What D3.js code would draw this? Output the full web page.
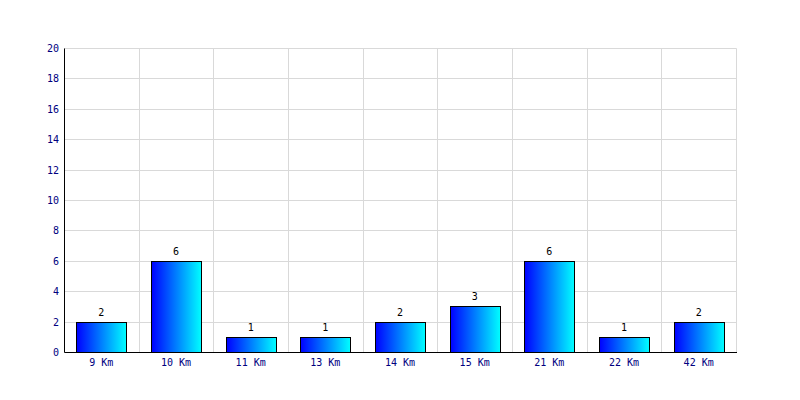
<!DOCTYPE html>
<html><head><meta charset="utf-8">
<script src="https://cdn.jsdelivr.net/npm/d3@7"></script>
<style>body{margin:0;background:#fff}svg{display:block}</style>
</head><body><svg id="c" width="800" height="400"></svg>
<script>
const categories = ["9 Km","10 Km","11 Km","13 Km","14 Km","15 Km","21 Km","22 Km","42 Km"];
const values = [2,6,1,1,2,3,6,1,2];
const yTicks = [0,2,4,6,8,10,12,14,16,18,20];

const svg = d3.select("#c");
const L=64, R=736, T=48, B=352;
const x = d3.scaleBand().domain(categories).range([L,R]).paddingInner(0).paddingOuter(0);
const y = d3.scaleLinear().domain([0,20]).range([B,T]);
const font = "'DejaVu Sans Mono', monospace";
const px = v => Math.round(v)+0.5;

const defs = svg.append("defs");
const g = defs.append("linearGradient").attr("id","bg").attr("x1","0").attr("x2","1").attr("y1","0").attr("y2","0");
g.append("stop").attr("offset","0").attr("stop-color","#0000ff");
g.append("stop").attr("offset","1").attr("stop-color","#00ffff");

// grid
svg.append("g").selectAll("line").data(yTicks.filter(d=>d>0)).join("line")
  .attr("x1",L).attr("x2",R+0.5).attr("y1",d=>px(y(d))).attr("y2",d=>px(y(d)))
  .attr("stroke","#d9d9d9");
svg.append("g").selectAll("line").data(categories.slice(1).concat(["__end"])).join("line")
  .attr("x1",d=>px(d==="__end"?R:x(d))).attr("x2",d=>px(d==="__end"?R:x(d)))
  .attr("y1",px(T)).attr("y2",B).attr("stroke","#d9d9d9");

// bars
const bw = 50;
svg.append("g").selectAll("rect").data(values).join("rect")
  .attr("x",(d,i)=>Math.round(x(categories[i])+(x.bandwidth()-bw)/2)+0.5)
  .attr("y",d=>px(y(d)))
  .attr("width",bw)
  .attr("height",d=>Math.round(B-y(d)))
  .attr("fill","url(#bg)").attr("stroke","#000").attr("stroke-width",1);

// value labels
svg.append("g").selectAll("text").data(values).join("text")
  .attr("x",(d,i)=>x(categories[i])+x.bandwidth()/2)
  .attr("y",d=>y(d)-6)
  .attr("text-anchor","middle").attr("font-family",font).attr("font-size",10).attr("fill","#000")
  .text(d=>d);

// axes lines
svg.append("line").attr("x1",px(L)).attr("x2",px(L)).attr("y1",px(T)).attr("y2",px(B)).attr("stroke","#000");
svg.append("line").attr("x1",px(L)).attr("x2",R+1).attr("y1",px(B)).attr("y2",px(B)).attr("stroke","#000");

// y tick labels
svg.append("g").selectAll("text").data(yTicks).join("text")
  .attr("x",L-5).attr("y",d=>y(d)+4)
  .attr("text-anchor","end").attr("font-family",font).attr("font-size",10).attr("fill","#000080")
  .text(d=>d);

// x labels
svg.append("g").selectAll("text").data(categories).join("text")
  .attr("x",d=>x(d)+x.bandwidth()/2).attr("y",B+14)
  .attr("text-anchor","middle").attr("font-family",font).attr("font-size",10).attr("fill","#000080")
  .text(d=>d);
</script></body></html>
